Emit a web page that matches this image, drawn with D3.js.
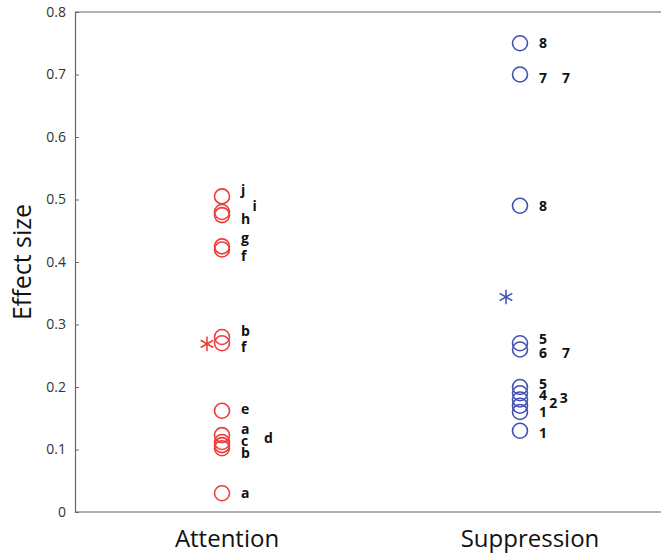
<!DOCTYPE html>
<html><head><meta charset="utf-8">
<script src="https://cdn.jsdelivr.net/npm/d3@7"></script>
<style>body{margin:0;background:#fff}</style>
</head><body><svg id="c" width="661" height="556"></svg>
<script>
const categories = ["Attention", "Suppression"];
const yTicks = [0, 0.1, 0.2, 0.3, 0.4, 0.5, 0.6, 0.7, 0.8];

const attentionValues = [0.505, 0.48, 0.475, 0.425, 0.42, 0.28, 0.27, 0.162, 0.123, 0.112, 0.107, 0.102, 0.03];
const attentionMean = 0.269;
const attentionLabels = ["j","i","h","g","f","b","f","e","a","c","d","b","a"];
const attentionLabelValues = [0.515, 0.49, 0.468, 0.438, 0.41, 0.289, 0.264, 0.164, 0.132, 0.114, 0.118, 0.094, 0.03];
const attentionLabelSlots = [0, 1, 0, 0, 0, 0, 0, 0, 0, 0, 2, 0, 0];

const suppressionValues = [0.75, 0.70, 0.49, 0.27, 0.26, 0.20, 0.19, 0.18, 0.17, 0.16, 0.13];
const suppressionMean = 0.344;
const suppressionLabels = ["8","7","7","8","5","6","7","5","4","2","3","1","1"];
const suppressionLabelValues = [0.75, 0.694, 0.694, 0.49, 0.277, 0.254, 0.254, 0.204, 0.187, 0.175, 0.183, 0.16, 0.126];
const suppressionLabelSlots = [0, 0, 2, 0, 0, 0, 2, 0, 0, 0.9, 1.8, 0, 0];

const colors = ["#ef3a3a", "#4150b0"];

(function () {
const svg = d3.select("#c");
const mLeft = 75, mTop = 12, mBottom = 512, mRight = 661;
const x = d3.scaleLinear().domain([1, 2]).range([222, 520]);
const y = d3.scaleLinear().domain([0, 0.8]).range([mBottom, mTop]);
const font = "'Open Sans', 'Noto Sans', sans-serif";

svg.append("line").attr("x1", mLeft).attr("x2", mRight).attr("y1", mTop).attr("y2", mTop)
  .attr("stroke", "#666").attr("stroke-width", 1.2);
svg.append("line").attr("x1", mLeft).attr("x2", mRight).attr("y1", mBottom).attr("y2", mBottom)
  .attr("stroke", "#666").attr("stroke-width", 1.2);

const yAxis = d3.axisLeft(y).tickValues(yTicks).tickSize(-4).tickPadding(9)
  .tickFormat(d => d === 0 ? "0" : d3.format(".1f")(d));
const ga = svg.append("g").attr("transform", `translate(${mLeft},0)`).call(yAxis);
ga.select(".domain").attr("stroke", "#666").attr("stroke-width", 1.2);
ga.selectAll(".tick line").attr("stroke", "#666");
ga.selectAll(".tick text").attr("font-family", font)
  .attr("font-size", 14).attr("fill", "#333");

svg.append("text").attr("transform", `translate(31,${(mTop + mBottom) / 2}) rotate(-90)`)
  .attr("text-anchor", "middle").attr("font-family", font)
  .attr("font-size", 25).attr("fill", "#111").text("Effect size");

const catOffsets = [5, 10];
categories.forEach((c, i) => {
  svg.append("text").attr("x", x(i + 1) + catOffsets[i]).attr("y", 547)
    .attr("text-anchor", "middle").attr("font-family", font)
    .attr("font-size", 24).attr("fill", "#111").text(c);
});

const groups = [
  {vals: attentionValues, mean: attentionMean, labels: attentionLabels, lv: attentionLabelValues, ls: attentionLabelSlots, meanDx: -15},
  {vals: suppressionValues, mean: suppressionMean, labels: suppressionLabels, lv: suppressionLabelValues, ls: suppressionLabelSlots, meanDx: -14}
];

groups.forEach((g, i) => {
  const cx = x(i + 1);
  svg.append("g").selectAll("circle").data(g.vals).join("circle")
    .attr("cx", cx).attr("cy", d => y(d)).attr("r", 7.5)
    .attr("fill", "none").attr("stroke", colors[i]).attr("stroke-width", 1.6);
  svg.append("path").attr("d", d3.symbol(d3.symbolAsterisk, 150)())
    .attr("transform", `translate(${cx + g.meanDx},${y(g.mean)})`)
    .attr("fill", "none").attr("stroke", colors[i]).attr("stroke-width", 1.5);
  svg.append("g").selectAll("text").data(g.labels).join("text")
    .attr("x", (d, k) => cx + 19 + g.ls[k] * 11.5)
    .attr("y", (d, k) => y(g.lv[k]))
    .attr("dy", "0.35em")
    .attr("font-family", font)
    .attr("font-weight", "bold").attr("font-size", 14).attr("fill", "#111")
    .text(d => d);
});
})();
</script>
</body></html>
